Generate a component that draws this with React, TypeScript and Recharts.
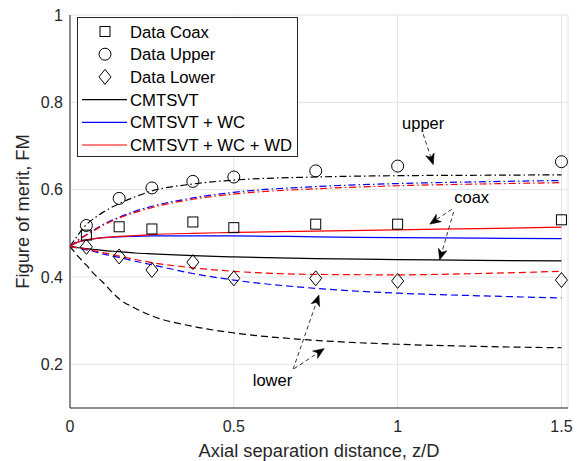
import React from 'react';
import {
  ComposedChart,
  Line,
  Scatter,
  XAxis,
  YAxis,
  CartesianGrid,
  Legend,
  ReferenceLine,
  ReferenceDot,
  Label,
} from 'recharts';

const FONT = '"Liberation Sans", Arial, Helvetica, sans-serif';
const AXIS_COLOR = '#262626';

// ---- data ----
const xTicks = [0, 0.5, 1, 1.5];
const yTicks = [0.2, 0.4, 0.6, 0.8, 1];

const curveX = [0, 0.025, 0.05, 0.075, 0.1, 0.15, 0.2, 0.25, 0.375, 0.5, 0.75, 1.0, 1.25, 1.5];
// coax (solid)
const coaxCMTSVT = [0.47, 0.467, 0.465, 0.463, 0.461, 0.458, 0.455, 0.453, 0.449, 0.446, 0.442, 0.44, 0.438, 0.437];
const coaxWC = [0.47, 0.48, 0.485, 0.488, 0.49, 0.492, 0.493, 0.494, 0.494, 0.494, 0.492, 0.49, 0.489, 0.488];
const coaxWCWD = [0.47, 0.48, 0.485, 0.488, 0.49, 0.493, 0.495, 0.497, 0.5, 0.502, 0.505, 0.508, 0.511, 0.514];
// upper (dash-dot)
const upperCMTSVT = [0.47, 0.497, 0.52, 0.535, 0.548, 0.568, 0.584, 0.597, 0.613, 0.622, 0.629, 0.632, 0.633, 0.634];
const upperWC = [0.47, 0.485, 0.497, 0.509, 0.52, 0.537, 0.551, 0.562, 0.581, 0.594, 0.607, 0.614, 0.618, 0.621];
const upperWCWD = [0.47, 0.484, 0.496, 0.507, 0.518, 0.535, 0.548, 0.559, 0.578, 0.59, 0.602, 0.609, 0.613, 0.616];
// lower (dashed)
const lowerCMTSVT = [0.47, 0.447, 0.427, 0.406, 0.388, 0.35, 0.328, 0.311, 0.287, 0.272, 0.255, 0.246, 0.241, 0.238];
const lowerWC = [0.47, 0.466, 0.462, 0.458, 0.453, 0.445, 0.436, 0.428, 0.408, 0.393, 0.374, 0.363, 0.357, 0.352];
const lowerWCWD = [0.47, 0.467, 0.464, 0.46, 0.456, 0.448, 0.44, 0.433, 0.421, 0.413, 0.406, 0.405, 0.408, 0.413];

const dataX = [0.05, 0.15, 0.25, 0.375, 0.5, 0.75, 1.0, 1.5];
const dataCoax = [0.496, 0.515, 0.51, 0.526, 0.513, 0.521, 0.521, 0.531];
const dataUpper = [0.518, 0.58, 0.604, 0.619, 0.629, 0.643, 0.654, 0.664];
const dataLower = [0.469, 0.447, 0.416, 0.434, 0.397, 0.397, 0.391, 0.393];

const annotationTexts = [
  { text: 'upper', x: 1.078, y: 0.752 },
  { text: 'coax', x: 1.226, y: 0.582 },
  { text: 'lower', x: 0.618, y: 0.163 },
];
const annotationArrows = [
  { from: [1.078, 0.727], to: [1.109, 0.657] },
  { from: [1.165, 0.555], to: [1.098, 0.521] },
  { from: [1.171, 0.549], to: [1.128, 0.439] },
  { from: [0.681, 0.189], to: [0.76, 0.359] },
  { from: [0.684, 0.19], to: [0.776, 0.236] },
];

const legendItems = [
  { label: 'Data Coax', marker: 'square' },
  { label: 'Data Upper', marker: 'circle' },
  { label: 'Data Lower', marker: 'diamond' },
  { label: 'CMTSVT', line: '#000000' },
  { label: 'CMTSVT + WC', line: '#0000ff' },
  { label: 'CMTSVT + WC + WD', line: '#ff0000' },
];

// ---- derived ----
const curveSeries = [
  { key: 'coaxCMTSVT', values: coaxCMTSVT, color: '#000000', dash: undefined },
  { key: 'coaxWC', values: coaxWC, color: '#0000ff', dash: undefined },
  { key: 'coaxWCWD', values: coaxWCWD, color: '#ff0000', dash: undefined },
  { key: 'upperCMTSVT', values: upperCMTSVT, color: '#000000', dash: '7 3 1.5 3' },
  { key: 'upperWC', values: upperWC, color: '#0000ff', dash: '7 3 1.5 3' },
  { key: 'upperWCWD', values: upperWCWD, color: '#ff0000', dash: '7 3 1.5 3' },
  { key: 'lowerCMTSVT', values: lowerCMTSVT, color: '#000000', dash: '7 4' },
  { key: 'lowerWC', values: lowerWC, color: '#0000ff', dash: '7 4' },
  { key: 'lowerWCWD', values: lowerWCWD, color: '#ff0000', dash: '7 4' },
];

const table = curveX.map((x, i) => {
  const row: Record<string, number> = { x };
  curveSeries.forEach((s) => {
    row[s.key] = s.values[i];
  });
  return row;
});

const toPoints = (ys: number[]) => dataX.map((x, i) => ({ x, y: ys[i] }));

// ---- marker shapes ----
const SquareShape = (props: any) => {
  const { cx, cy } = props;
  if (cx == null || cy == null) return null;
  const s = 5;
  return <rect x={cx - s} y={cy - s} width={2 * s} height={2 * s} fill="none" stroke="#000" strokeWidth={1} />;
};
const CircleShape = (props: any) => {
  const { cx, cy } = props;
  if (cx == null || cy == null) return null;
  return <circle cx={cx} cy={cy} r={6} fill="none" stroke="#000" strokeWidth={1} />;
};
const DiamondShape = (props: any) => {
  const { cx, cy } = props;
  if (cx == null || cy == null) return null;
  const w = 6, h = 7.5;
  return (
    <polygon
      points={`${cx},${cy - h} ${cx + w},${cy} ${cx},${cy + h} ${cx - w},${cy}`}
      fill="none"
      stroke="#000"
      strokeWidth={1}
    />
  );
};

const ArrowShape = (props: any) => {
  const { x1, y1, x2, y2 } = props;
  if ([x1, y1, x2, y2].some((v) => v == null || isNaN(v))) return null;
  const dx = x2 - x1, dy = y2 - y1;
  const len = Math.sqrt(dx * dx + dy * dy) || 1;
  const ux = dx / len, uy = dy / len;
  const nx = -uy, ny = ux;
  const L = 11, W = 4.5;
  const bx = x2 - L * ux, by = y2 - L * uy;
  const mx = x2 - 0.72 * L * ux, my = y2 - 0.72 * L * uy;
  const pts = `${x2},${y2} ${bx + W * nx},${by + W * ny} ${mx},${my} ${bx - W * nx},${by - W * ny}`;
  return (
    <g>
      <line x1={x1} y1={y1} x2={mx} y2={my} stroke="#000" strokeWidth={0.8} strokeDasharray="4 3" />
      <polygon points={pts} fill="#000" stroke="#000" strokeWidth={0.5} />
    </g>
  );
};

const makeTextShape = (text: string) => (props: any) => {
  const { cx, cy } = props;
  if (cx == null || cy == null) return null;
  return (
    <text x={cx} y={cy} dy="0.35em" textAnchor="middle" fontSize={16.5} fontFamily={FONT} fill="#000">
      {text}
    </text>
  );
};

const LegendBox = () => {
  const w = 221, h = 140;
  const y0 = 14.5, step = 22.7;
  return (
    <svg width={w} height={h} style={{ display: 'block' }}>
      <rect x={0.5} y={0.5} width={w - 1} height={h - 1} fill="#fff" stroke={AXIS_COLOR} strokeWidth={1} />
      {legendItems.map((it, i) => {
        const cy = y0 + i * step;
        const cx = 28;
        let sym: React.ReactNode = null;
        if (it.marker === 'square') sym = <SquareShape cx={cx} cy={cy} />;
        else if (it.marker === 'circle') sym = <CircleShape cx={cx} cy={cy} />;
        else if (it.marker === 'diamond') sym = <DiamondShape cx={cx} cy={cy} />;
        else if (it.line) sym = <line x1={5} x2={50} y1={cy} y2={cy} stroke={it.line} strokeWidth={1.2} />;
        return (
          <g key={it.label}>
            {sym}
            <text x={53} y={cy} dy="0.36em" fontSize={16.7} fontFamily={FONT} fill="#000">
              {it.label}
            </text>
          </g>
        );
      })}
    </svg>
  );
};

export default function App() {
  return (
    <div style={{ position: 'absolute', left: 0, top: 0, width: 581, height: 461, background: '#fff', fontFamily: FONT }}>
      <ComposedChart width={581} height={461} data={table} margin={{ top: 15, right: 13, bottom: 0, left: 0 }}>
        <CartesianGrid stroke="#e2e2e2" strokeWidth={1} />
        <XAxis
          xAxisId={0}
          type="number"
          dataKey="x"
          domain={[0, 1.52]}
          ticks={xTicks}
          allowDataOverflow
          height={53}
          tickLine={false}
          tickSize={0}
          tickMargin={13}
          axisLine={{ stroke: AXIS_COLOR }}
          tick={{ fill: AXIS_COLOR, fontSize: 16, fontFamily: FONT }}
        >
          <Label value="Axial separation distance, z/D" position="insideBottom" offset={4.5} fontSize={18.3} fill={AXIS_COLOR} fontFamily={FONT} />
        </XAxis>
        <YAxis
          yAxisId={0}
          type="number"
          domain={[0.1, 1]}
          ticks={yTicks}
          allowDataOverflow
          width={70}
          tickLine={false}
          tickSize={0}
          tickMargin={7}
          axisLine={{ stroke: AXIS_COLOR }}
          tick={{ fill: AXIS_COLOR, fontSize: 16, fontFamily: FONT }}
        >
          <Label value="Figure of merit, FM" angle={-90} position="insideLeft" offset={23} textAnchor="middle" fontSize={18.3} fill={AXIS_COLOR} fontFamily={FONT} />
        </YAxis>
        <XAxis xAxisId="bt" type="number" domain={[0, 1.52]} ticks={xTicks} allowDataOverflow mirror height={0} tick={false} tickSize={5} axisLine={false} tickLine={{ stroke: AXIS_COLOR }} />
        <XAxis xAxisId="top" orientation="top" type="number" domain={[0, 1.52]} ticks={xTicks} allowDataOverflow mirror height={0} tick={false} tickSize={5} axisLine={{ stroke: AXIS_COLOR }} tickLine={{ stroke: AXIS_COLOR }} />
        <YAxis yAxisId="lt" type="number" domain={[0.1, 1]} ticks={yTicks} allowDataOverflow mirror width={0} tick={false} tickSize={5} axisLine={false} tickLine={{ stroke: AXIS_COLOR }} />
        <YAxis yAxisId="right" orientation="right" type="number" domain={[0.1, 1]} ticks={yTicks} allowDataOverflow mirror width={0} tick={false} tickSize={5} axisLine={{ stroke: AXIS_COLOR }} tickLine={{ stroke: AXIS_COLOR }} />

        {curveSeries.map((s) => (
          <Line
            key={s.key}
            type="monotone"
            dataKey={s.key}
            stroke={s.color}
            strokeWidth={1.2}
            strokeDasharray={s.dash}
            dot={false}
            activeDot={false}
            isAnimationActive={false}
          />
        ))}

        <Scatter data={toPoints(dataCoax)} dataKey="y" shape={SquareShape} isAnimationActive={false} />
        <Scatter data={toPoints(dataUpper)} dataKey="y" shape={CircleShape} isAnimationActive={false} />
        <Scatter data={toPoints(dataLower)} dataKey="y" shape={DiamondShape} isAnimationActive={false} />

        {annotationArrows.map((a, i) => (
          <ReferenceLine
            key={'arr' + i}
            segment={[{ x: a.from[0], y: a.from[1] }, { x: a.to[0], y: a.to[1] }]}
            shape={ArrowShape}
            ifOverflow="visible"
          />
        ))}
        {annotationTexts.map((t) => (
          <ReferenceDot key={t.text} x={t.x} y={t.y} r={1} shape={makeTextShape(t.text)} ifOverflow="visible" />
        ))}

        <Legend
          layout="vertical"
          align="center"
          verticalAlign="middle"
          wrapperStyle={{ left: 77, top: 17, width: 221, height: 140 }}
          content={() => <LegendBox />}
        />
      </ComposedChart>
    </div>
  );
}
